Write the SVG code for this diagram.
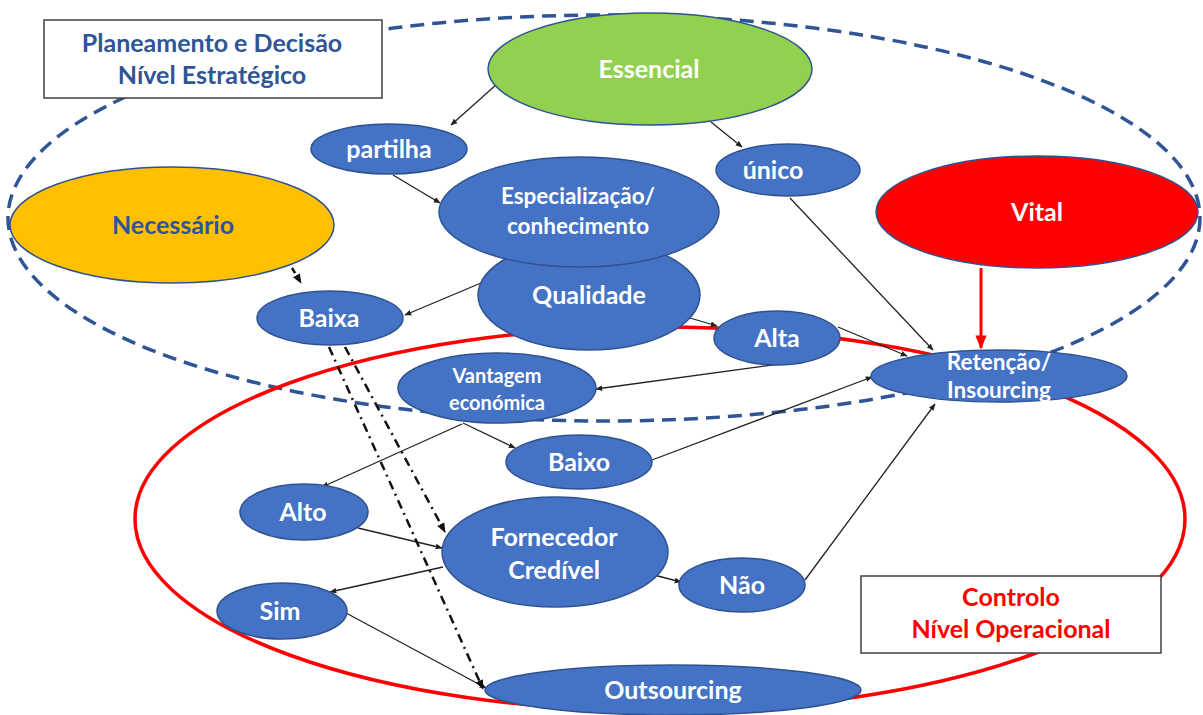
<svg xmlns="http://www.w3.org/2000/svg" width="1203" height="715" viewBox="0 0 1203 715">
<defs>
<style>
.n{fill:#4472C4;stroke:#2F528F;stroke-width:1.5}
.t{font-family:Lato,"Open Sans",sans-serif;font-weight:700;font-size:25px;fill:#fff;text-anchor:middle}
.m{font-size:22.5px}
.s{font-size:20px}
.c{stroke:#222;stroke-width:1.3;fill:none;marker-end:url(#a)}
.dd{stroke:#111;stroke-width:2.5;fill:none;stroke-dasharray:9 5 2 5;marker-end:url(#ab)}
.bt{font-family:Lato,"Open Sans",sans-serif;font-weight:700;font-size:25px;text-anchor:middle}
</style>
<marker id="a" viewBox="0 0 10 10" refX="9" refY="5" markerWidth="7" markerHeight="7" orient="auto" markerUnits="userSpaceOnUse"><path d="M0,1 L10,5 L0,9 z" fill="#222"/></marker>
<marker id="ab" viewBox="0 0 10 10" refX="9" refY="5" markerWidth="10" markerHeight="10" orient="auto" markerUnits="userSpaceOnUse"><path d="M0,1 L10,5 L0,9 z" fill="#111"/></marker>
<marker id="ar" viewBox="0 0 10 10" refX="9" refY="5" markerWidth="14" markerHeight="14" orient="auto" markerUnits="userSpaceOnUse"><path d="M0,1 L10,5 L0,9 z" fill="#FF0000"/></marker>
</defs>
<rect width="1203" height="715" fill="#fff"/>
<g id="boundaries">
<ellipse cx="604" cy="218" rx="596" ry="203" fill="none" stroke="#2F5597" stroke-width="3.5" stroke-dasharray="14 8"/>
<ellipse cx="660" cy="519" rx="525" ry="192" fill="none" stroke="#FF0000" stroke-width="3.5"/>
</g>
<g id="connectors">
<line class="c" x1="497" y1="84" x2="451" y2="125"/>
<line class="c" x1="711" y1="122" x2="742" y2="147"/>
<line class="c" x1="393" y1="175" x2="440" y2="203"/>
<line class="c" x1="481" y1="283" x2="405" y2="315"/>
<line class="c" x1="690" y1="318" x2="717" y2="326"/>
<line class="c" x1="838" y1="327" x2="907" y2="356"/>
<line class="c" x1="790" y1="198" x2="933" y2="350"/>
<line class="c" x1="780" y1="364" x2="596" y2="389"/>
<line class="c" x1="463" y1="423" x2="515" y2="448"/>
<line class="c" x1="462" y1="424" x2="322" y2="487"/>
<line class="c" x1="652" y1="460" x2="872" y2="377"/>
<line class="c" x1="358" y1="528" x2="442" y2="548"/>
<line class="c" x1="443" y1="567" x2="330" y2="592"/>
<line class="c" x1="654" y1="575" x2="681" y2="582"/>
<line class="c" x1="805" y1="580" x2="935" y2="404"/>
<line class="c" x1="346" y1="613" x2="486" y2="688"/>
<line x1="292" y1="268" x2="301" y2="283" stroke="#111" stroke-width="2.5" stroke-dasharray="6 3" marker-end="url(#ab)"/>
<line class="dd" x1="345" y1="347" x2="445" y2="532"/>
<line class="dd" x1="329" y1="347" x2="483" y2="689"/>
<line x1="981" y1="268" x2="981" y2="348" stroke="#FF0000" stroke-width="3" marker-end="url(#ar)"/>
</g>
<g id="essencial"><ellipse cx="650" cy="69" rx="162" ry="56" fill="#92D050" stroke="#2F528F" stroke-width="1.5"/><text class="t" x="649" y="78">Essencial</text></g>
<g id="partilha"><ellipse class="n" cx="389" cy="149" rx="78" ry="25"/><text class="t" x="389" y="158">partilha</text></g>
<g id="unico"><ellipse class="n" cx="788" cy="170" rx="72" ry="26"/><text class="t" x="773" y="179">único</text></g>
<g id="necessario"><ellipse cx="172" cy="225" rx="162" ry="58" fill="#FFC000" stroke="#2F528F" stroke-width="1.5"/><text class="t" x="173" y="234" style="fill:#2F5597">Necessário</text></g>
<g id="vital"><ellipse cx="1037" cy="212" rx="161" ry="56" fill="#FF0000" stroke="#2F528F" stroke-width="1.5"/><text class="t" x="1037" y="221">Vital</text></g>
<g id="qualidade"><ellipse class="n" cx="589" cy="295" rx="111" ry="55"/><text class="t" x="589" y="304">Qualidade</text></g>
<g id="especializacao"><ellipse class="n" cx="579" cy="212" rx="140" ry="55"/><text class="t m" x="578" y="204">Especialização/</text><text class="t m" x="578" y="234">conhecimento</text></g>
<g id="baixa"><ellipse class="n" cx="330" cy="318" rx="73" ry="27"/><text class="t" x="329" y="327">Baixa</text></g>
<g id="alta"><ellipse class="n" cx="777" cy="338" rx="63" ry="27"/><text class="t" x="777" y="347">Alta</text></g>
<g id="retencao"><ellipse class="n" cx="999" cy="376" rx="128" ry="26"/><text class="t m" x="999" y="370">Retenção/</text><text class="t m" x="999" y="398">Insourcing</text></g>
<g id="vantagem"><ellipse class="n" cx="497" cy="388" rx="99" ry="35"/><text class="t s" x="497" y="383">Vantagem</text><text class="t s" x="497" y="410">económica</text></g>
<g id="baixo"><ellipse class="n" cx="579" cy="462" rx="73" ry="27"/><text class="t" x="579" y="471">Baixo</text></g>
<g id="alto"><ellipse class="n" cx="304" cy="512" rx="64" ry="28"/><text class="t" x="303" y="521">Alto</text></g>
<g id="fornecedor"><ellipse class="n" cx="555" cy="552" rx="113" ry="55"/><text class="t" x="554" y="546">Fornecedor</text><text class="t" x="554" y="579">Credível</text></g>
<g id="nao"><ellipse class="n" cx="742" cy="585" rx="63" ry="27"/><text class="t" x="742" y="594">Não</text></g>
<g id="sim"><ellipse class="n" cx="282" cy="611" rx="65" ry="28"/><text class="t" x="280" y="620">Sim</text></g>
<g id="outsourcing"><ellipse class="n" cx="673" cy="690" rx="188" ry="25"/><text class="t" x="673" y="699">Outsourcing</text></g>
<g id="label-planeamento"><rect x="44" y="20" width="338" height="78" fill="#fff" stroke="#404040" stroke-width="1.5"/><text class="bt" x="212" y="52" fill="#2F5597">Planeamento e Decisão</text><text class="bt" x="212" y="84" fill="#2F5597">Nível Estratégico</text></g>
<g id="label-controlo"><rect x="861" y="576" width="300" height="77" fill="#fff" stroke="#404040" stroke-width="1.5"/><text class="bt" x="1011" y="606" fill="#FF0000">Controlo</text><text class="bt" x="1011" y="638" fill="#FF0000">Nível Operacional</text></g>
</svg>
